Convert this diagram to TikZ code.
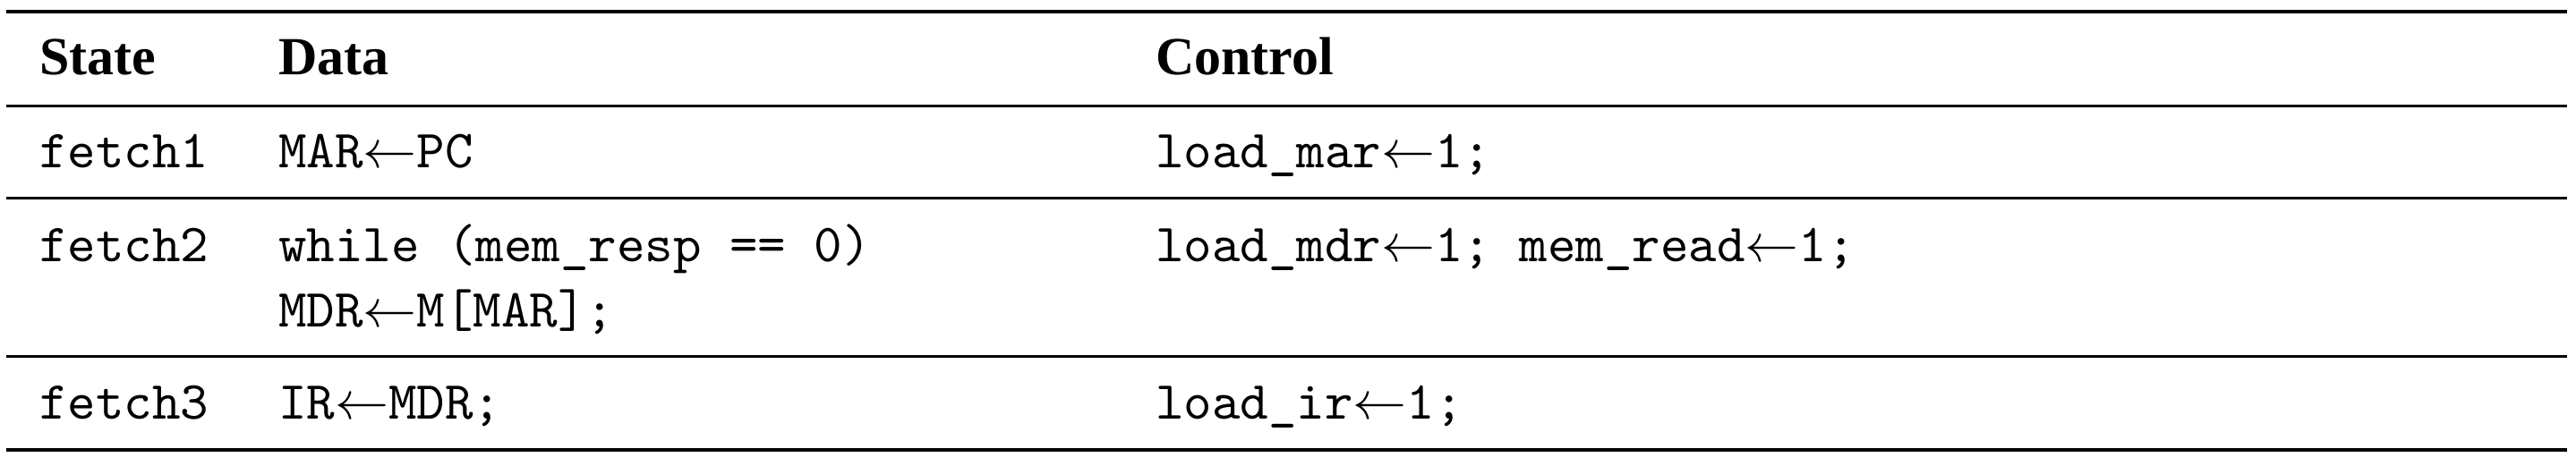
\documentclass[tikz,border=0pt]{standalone}
\usepackage{fontspec}
\newfontfamily\headfont{Liberation Serif}
\begin{document}
\begin{tikzpicture}[x=1pt,y=1pt,
    head/.style={anchor=base west, inner sep=0pt, font=\headfont\bfseries},
    cell/.style={anchor=base west, inner sep=0pt, font=\ttfamily},
    heavyrule/.style={line width=0.8pt},
    lightrule/.style={line width=0.5pt}
  ]
  \useasboundingbox (0,0) rectangle (479.67,86.67);
  % rules
  \draw[heavyrule] (1.17,84.5) -- (478,84.5);
  \draw[lightrule] (1.17,67.0) -- (478,67.0);
  \draw[lightrule] (1.17,49.83) -- (478,49.83);
  \draw[lightrule] (1.17,20.33) -- (478,20.33);
  \draw[heavyrule] (1.17,2.83) -- (478,2.83);
  % header
  \node (hstate) [head] at (7.2,72.83) {State};
  \node (hdata) [head] at (51.67,72.83) {Data};
  \node (hctrl) [head] at (215,72.83) {Control};
  % rows
  \node (s1) [cell] at (7.2,55.5) {fetch1};
  \node (d1) [cell] at (51.67,55.5) {MAR$\leftarrow$PC};
  \node (c1) [cell] at (215,55.5) {load\_mar$\leftarrow$1;};
  \node (s2) [cell] at (7.2,38.0) {fetch2};
  \node (d2) [cell] at (51.67,38.0) {while (mem\_resp == 0)};
  \node (d2b) [cell] at (51.67,25.83) {MDR$\leftarrow$M[MAR];};
  \node (c2) [cell] at (215,38.0) {load\_mdr$\leftarrow$1; mem\_read$\leftarrow$1;};
  \node (s3) [cell] at (7.2,8.67) {fetch3};
  \node (d3) [cell] at (51.67,8.67) {IR$\leftarrow$MDR;};
  \node (c3) [cell] at (215,8.67) {load\_ir$\leftarrow$1;};
\end{tikzpicture}
\end{document}
